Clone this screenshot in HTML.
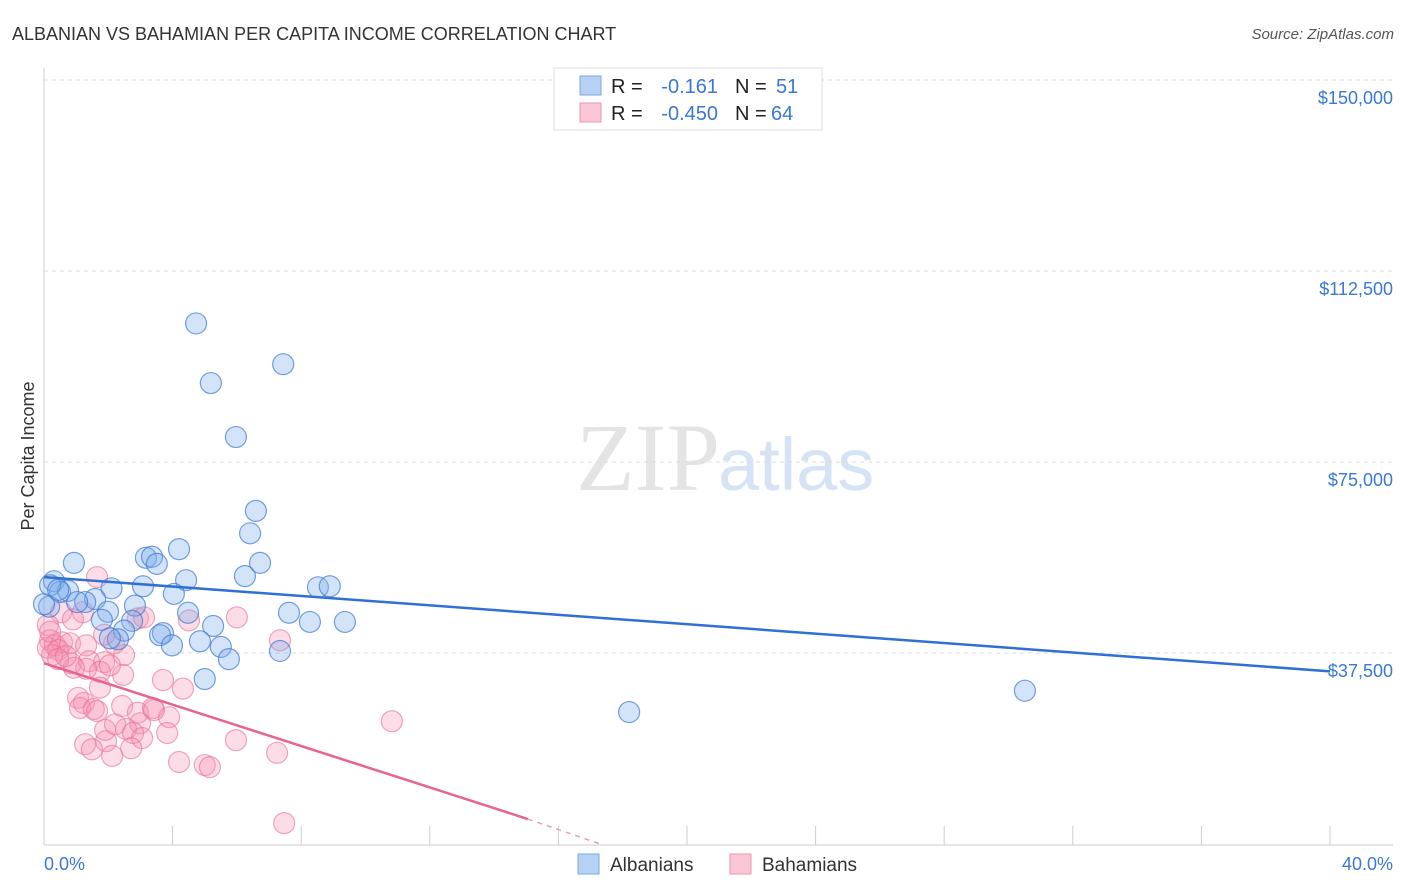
<!DOCTYPE html>
<html><head><meta charset="utf-8"><style>
body{margin:0;background:#fff;font-family:"Liberation Sans",sans-serif}
svg{display:block}
</style></head><body>
<svg id="chart" width="1406" height="892">
<text x="12" y="40" font-size="18" fill="#333">ALBANIAN VS BAHAMIAN PER CAPITA INCOME CORRELATION CHART</text>
<text x="1394" y="39" font-size="15" fill="#555" text-anchor="end" font-style="italic">Source: ZipAtlas.com</text>
<text x="720" y="490" font-size="96" fill="#e4e4e4" text-anchor="end" font-family="Liberation Serif">ZIP</text>
<text x="718" y="490" font-size="74" fill="#d6e3f5">atlas</text>
<text transform="translate(34,456) rotate(-90)" font-size="18" fill="#333" text-anchor="middle">Per Capita Income</text>
<g id="grid"></g><g id="pts"></g><g id="lines"></g>
<g>
<rect x="554" y="68" width="268" height="62" fill="#fff" stroke="#ddd"/>
<rect x="580" y="76" width="21" height="19" fill="#b7d1f3" stroke="#7aa7e3"/>
<rect x="580" y="103" width="21" height="19" fill="#f9c6d5" stroke="#ee93ae"/>
<text x="611" y="93" font-size="20" fill="#222">R = </text><text x="718" y="93" font-size="20" fill="#3a78d6" text-anchor="end">-0.161</text>
<text x="735" y="93" font-size="20" fill="#222">N = </text><text x="776" y="93" font-size="20" fill="#3a78d6">51</text>
<text x="611" y="120" font-size="20" fill="#222">R = </text><text x="718" y="120" font-size="20" fill="#3a78d6" text-anchor="end">-0.450</text>
<text x="735" y="120" font-size="20" fill="#222">N = </text><text x="771" y="120" font-size="20" fill="#3a78d6">64</text>
</g>
<g>
<rect x="578" y="854" width="21" height="20" fill="#b7d1f3" stroke="#7aa7e3"/>
<text x="610" y="871" font-size="19" fill="#333">Albanians</text>
<rect x="730" y="854" width="21" height="20" fill="#f9c6d5" stroke="#ee93ae"/>
<text x="762" y="871" font-size="19" fill="#333">Bahamians</text>
</g>
<text x="44" y="870" font-size="18" fill="#3a78d6">0.0%</text>
<text x="1393" y="870" font-size="18" fill="#3a78d6" text-anchor="end">40.0%</text>
</svg>
<script>
const yTicks=[150000,112500,75000,37500];
const yTickLabels=["$150,000","$112,500","$75,000","$37,500"];
const xTicks=[0,4,8,12,16,20,24,28,32,36,40];
const blueX=[4.73,5.19,7.44,5.97,6.59,6.41,4.2,3.17,3.36,3.51,0.93,0.31,4.42,6.25,6.72,3.08,2.1,4.04,0.5,0.75,1.59,1.28,1.03,0.16,1.99,2.83,4.48,8.52,8.89,7.62,8.27,9.36,5.26,1.8,2.74,2.49,3.7,3.61,2.3,3.98,4.85,5.5,5.75,7.34,5.0,18.2,30.51,0,2.05,0.19,0.44];
const blueY=[102200,90500,94200,79900,65400,61000,57900,56200,56400,55000,55200,51600,51800,52600,55200,50600,50200,49100,49500,49700,48100,47500,47500,46600,45600,46800,45400,50400,50600,45400,43600,43600,42800,44000,43800,41900,41400,41000,40200,39000,39800,38700,36300,37900,32400,25900,30100,47100,40400,50800,49900];
const pinkX=[1.65,6.0,4.51,2.92,1.21,0.53,0.12,0.19,0.34,0.56,0.81,1.31,0.12,0.44,0.25,0.84,1.4,1.87,2.49,2.18,1.74,2.46,1.31,0.93,2.05,3.7,1.06,1.24,1.12,1.74,1.55,2.43,2.92,3.39,3.89,4.32,3.42,2.99,1.65,2.55,1.93,1.9,5.97,3.83,2.77,3.05,1.28,1.49,2.71,2.12,4.2,5.0,5.16,7.25,10.82,7.47,2.21,7.34,1.87,0.44,0.68,3.11,0.9,0.19];
const pinkY=[52400,44500,43900,44300,45500,45500,43000,40000,39000,39600,39400,39000,38500,38100,37100,35500,35900,35700,37100,39400,33800,33200,34400,34600,35100,32200,28700,27700,26700,30700,26500,27100,25800,26700,24900,30500,26300,23700,26100,22600,20200,22400,20400,21800,21800,20800,19600,18600,18800,17300,16100,15500,15100,17900,24100,4100,23500,40000,41100,36300,36900,44500,44100,41700];
const blueLine=[[0,52400],[40,33900]];
const pinkLine=[[0,35500],[15.05,4900]];
const pinkDash=[[15.05,4900],[17.3,0]];
const X=v=>44+v/40*1286, Y=v=>844-v/37500*191;
const NS="http://www.w3.org/2000/svg";
function mk(t,a,p){const e=document.createElementNS(NS,t);for(const k in a)e.setAttribute(k,a[k]);p.appendChild(e);return e;}
const grid=document.getElementById('grid');
let ax=mk('line',{x1:44,y1:68,x2:44,y2:845,stroke:'#ccc'},grid);


let bx=mk('line',{x1:44,y1:845,x2:1393,y2:845,stroke:'#ccc'},grid);


yTicks.forEach((t,i)=>{
 const g=mk('line',{x1:44,x2:1393,y1:Y(t),y2:Y(t),stroke:'#ddd','stroke-dasharray':'4,4'},grid);
 
 
 const l=mk('text',{x:1393,y:Y(t)+24,'font-size':18,fill:'#3a78d6','text-anchor':'end'},grid);
 l.textContent=yTickLabels[i];
 
 
});
xTicks.forEach(t=>{
 const k=mk('line',{x1:X(t),x2:X(t),y1:826,y2:845,stroke:'#ccc'},grid);
 
 
});
const pts=document.getElementById('pts');
pinkX.forEach((x,i)=>{
 const c=mk('circle',{cx:X(x),cy:Y(pinkY[i]),r:10.5,fill:'rgba(244,143,177,0.3)',stroke:'rgba(232,110,150,0.6)','stroke-width':1.2},pts);
 
 
});
blueX.forEach((x,i)=>{
 const c=mk('circle',{cx:X(x),cy:Y(blueY[i]),r:10.5,fill:'rgba(130,175,235,0.35)',stroke:'rgba(60,120,210,0.7)','stroke-width':1.2},pts);
 
 
});
const lines=document.getElementById('lines');
let bl=mk('line',{x1:X(blueLine[0][0]),y1:Y(blueLine[0][1]),x2:X(blueLine[1][0]),y2:Y(blueLine[1][1]),stroke:'#2f6fd6','stroke-width':2.5},lines);


let pl=mk('line',{x1:X(pinkLine[0][0]),y1:Y(pinkLine[0][1]),x2:X(pinkLine[1][0]),y2:Y(pinkLine[1][1]),stroke:'#e8638f','stroke-width':2.5},lines);


let pd=mk('line',{x1:X(pinkDash[0][0]),y1:Y(pinkDash[0][1]),x2:X(pinkDash[1][0]),y2:Y(pinkDash[1][1]),stroke:'#e8a0b8','stroke-width':1.5,'stroke-dasharray':'5,5'},lines);


</script>
</body></html>
